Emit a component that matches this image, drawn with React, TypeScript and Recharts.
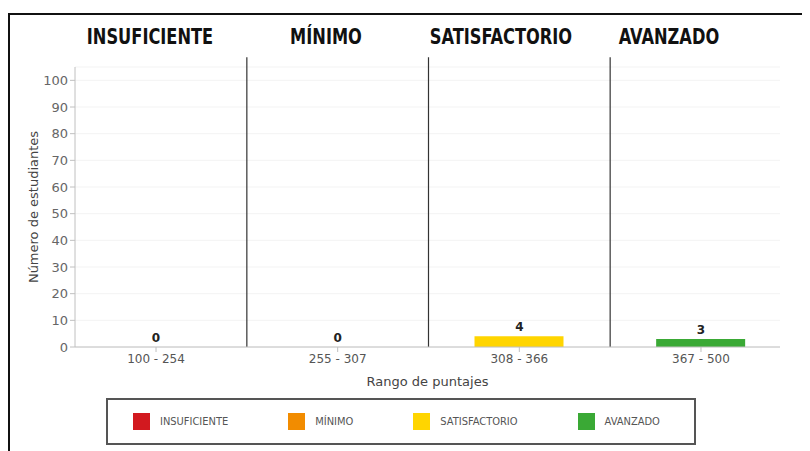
import {
  Bar,
  CartesianGrid,
  Cell,
  ComposedChart,
  LabelList,
  Line,
  ReferenceLine,
  XAxis,
  YAxis,
} from "recharts";

const RANGES = ["100 - 254", "255 - 307", "308 - 366", "367 - 500"];
const LEVELS = ["INSUFICIENTE", "MÍNIMO", "SATISFACTORIO", "AVANZADO"];
const COUNTS = [0, 0, 4, 3];
const LEVEL_COLORS = ["#d2191f", "#f28c00", "#ffd500", "#3aa935"];
const Y_TICKS = [0, 10, 20, 30, 40, 50, 60, 70, 80, 90, 100];

// header label centres (px inside the frame container)
const HEADER_X = [142, 318, 493, 661];

const AXIS_TEXT = { fill: "#555", fontSize: 12, fontFamily: "DejaVu Sans" };
const TITLE_TEXT = { fill: "#444", fontSize: 13, fontFamily: "DejaVu Sans" };
const AXIS_LINE = "#c0c0c0";

const rows = COUNTS.map((count, index) => ({ pos: index, count }));

export default function App() {
  return (
    <div style={{ position: "relative", width: 802, height: 443, overflow: "hidden", background: "#fff" }}>
      <style>{"html,body{overflow:hidden}"}</style>
      <div
        style={{
          position: "absolute",
          left: 0,
          top: 5,
          width: 900,
          height: 600,
          border: "2px solid #111",
        }}
      />
      {LEVELS.map((level, index) => (
        <div
          key={level}
          style={{
            position: "absolute",
            left: HEADER_X[index],
            top: 19,
            transform: "translateX(-50%) scaleX(0.88)",
            fontFamily: "'DejaVu Sans Condensed', 'DejaVu Sans', sans-serif",
            fontWeight: "bold",
            fontSize: 20.5,
            lineHeight: "21px",
            color: "#111",
            whiteSpace: "nowrap",
          }}
        >
          {level}
        </div>
      ))}
      <div style={{ position: "absolute", left: 0, top: 0 }}>
        <ComposedChart width={794} height={435} data={rows} margin={{ top: 59, right: 22, bottom: 66, left: 17 }}>
          <CartesianGrid stroke="#f3f3f3" vertical={false} />
          <XAxis
            dataKey="pos"
            type="number"
            domain={[-0.446, 3.435]}
            allowDataOverflow
            ticks={[0, 1, 2, 3]}
            tickFormatter={(value: number) => RANGES[value] ?? ""}
            tick={AXIS_TEXT}
            stroke={AXIS_LINE}
            tickSize={5}
            height={30}
            label={{ value: "Rango de puntajes", position: "bottom", offset: 0, style: TITLE_TEXT }}
          />
          <YAxis
            type="number"
            domain={[0, 105]}
            ticks={Y_TICKS}
            tick={{ ...AXIS_TEXT, fontSize: 13, fill: "#666" }}
            stroke={AXIS_LINE}
            tickSize={5}
            width={50}
            label={{
              value: "Número de estudiantes",
              angle: -90,
              position: "insideLeft",
              offset: 8,
              style: { ...TITLE_TEXT, textAnchor: "middle" },
            }}
          />
          {[0.5, 1.5, 2.5].map((x) => (
            <ReferenceLine
              key={x}
              segment={[
                { x, y: 0 },
                { x, y: 108.7 },
              ]}
              stroke="#333"
              strokeWidth={1.2}
              ifOverflow="visible"
            />
          ))}
          <Bar dataKey="count" barSize={89} isAnimationActive={false}>
            {rows.map((row) => (
              <Cell key={row.pos} fill={LEVEL_COLORS[row.pos]} />
            ))}
          </Bar>
          <Line dataKey="count" stroke="none" dot={false} activeDot={false} isAnimationActive={false}>
            <LabelList
              dataKey="count"
              position="top"
              offset={5}
              style={{ fill: "#222", fontSize: 12, fontWeight: "bold", fontFamily: "DejaVu Sans" }}
            />
          </Line>
        </ComposedChart>
      </div>
      <div
        style={{
          position: "absolute",
          left: 98,
          top: 390,
          width: 561,
          height: 43,
          border: "2px solid #555",
          display: "flex",
          alignItems: "center",
          paddingLeft: 25,
          boxSizing: "content-box",
          gap: 60,
        }}
      >
        {LEVELS.map((level, index) => (
          <div key={level} style={{ display: "flex", alignItems: "center", gap: 10 }}>
            <div style={{ width: 17, height: 17, background: LEVEL_COLORS[index] }} />
            <span
              style={{
                fontFamily: "'Liberation Sans Narrow', 'DejaVu Sans Condensed', sans-serif",
                fontSize: 11,
                color: "#555",
              }}
            >
              {level}
            </span>
          </div>
        ))}
      </div>
    </div>
  );
}
